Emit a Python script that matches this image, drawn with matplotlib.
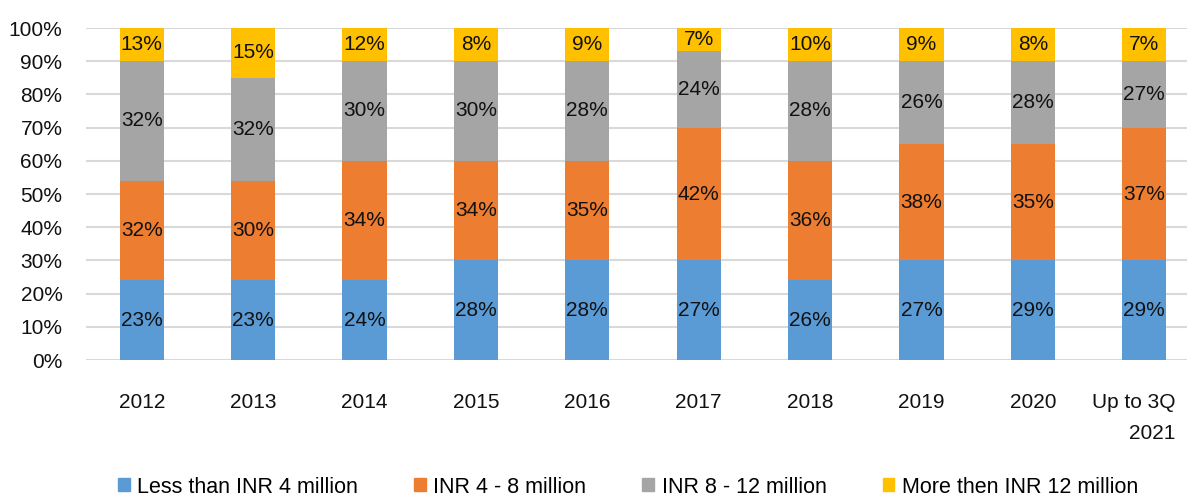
import numpy as np
import matplotlib.pyplot as plt
from matplotlib.transforms import ScaledTranslation

plt.rcParams['font.family'] = ['Liberation Sans', 'DejaVu Sans']

years = ['2012', '2013', '2014', '2015', '2016', '2017', '2018', '2019', '2020', 'Up to 3Q\n2021']
series = ['Less than INR 4 million', 'INR 4 - 8 million', 'INR 8 - 12 million', 'More then INR 12 million']
colors = ['#5B9BD5', '#ED7D31', '#A5A5A5', '#FFC000']

# segment heights as drawn in the picture (%)
h_lt4 = [24, 24, 24, 30, 30, 30, 24, 30, 30, 30]
h_4_8 = [30, 30, 36, 30, 30, 40, 36, 35, 35, 40]
h_8_12 = [36, 31, 30, 30, 30, 23, 30, 25, 25, 20]
h_gt12 = [10, 15, 10, 10, 10, 7, 10, 10, 10, 10]

# data labels as printed (%)
l_lt4 = [23, 23, 24, 28, 28, 27, 26, 27, 29, 29]
l_4_8 = [32, 30, 34, 34, 35, 42, 36, 38, 35, 37]
l_8_12 = [32, 32, 30, 30, 28, 24, 28, 26, 28, 27]
l_gt12 = [13, 15, 12, 8, 9, 7, 10, 9, 8, 7]

heights = [h_lt4, h_4_8, h_8_12, h_gt12]
labels = [l_lt4, l_4_8, l_8_12, l_gt12]

W, H = 1187, 498
fig = plt.figure(figsize=(W / 100, H / 100), dpi=100)
ax = fig.add_axes([86 / W, 138 / H, (1200 - 86) / W, 332 / H])

x = np.arange(len(years))
bottom = np.zeros(len(years))
for vals, lbls, c in zip(heights, labels, colors):
    vals = np.array(vals, dtype=float)
    ax.bar(x, vals, 0.395, bottom=bottom, color=c, zorder=2)
    for xi, b, v, t in zip(x, bottom, vals, lbls):
        ax.text(xi, b + v / 2, f'{t}%', ha='center', va='center',
                fontsize=15, color='#111111', zorder=3)
    bottom += vals

ax.set_xlim(-0.5, len(years) - 0.5)
ax.set_ylim(0, 100)
ax.set_yticks(np.arange(0, 101, 10))
ax.set_yticklabels([f'{v}%' for v in range(0, 101, 10)])
ax.set_xticks(x)
ax.set_xticklabels(years, multialignment='right', linespacing=1.75)
ax.tick_params(axis='both', length=0, labelsize=15, colors='#111111')
ax.tick_params(axis='y', pad=17)
ax.tick_params(axis='x', pad=24)
ax.grid(axis='y', color='#D9D9D9', lw=1.5, zorder=0)
for s in ax.spines.values():
    s.set_visible(False)

# last label sits a little left of its bar in the original
last = ax.get_xticklabels()[-1]
last.set_transform(last.get_transform() + ScaledTranslation(-0.11, 0, fig.dpi_scale_trans))

handles = [plt.Rectangle((0, 0), 1, 1, color=c) for c in colors]
fig.legend(handles, series, loc='center', bbox_to_anchor=(628 / W, 1 - 487 / H),
           ncol=4, frameon=False, fontsize=15.5, handlelength=0.55, handleheight=0.55,
           handletextpad=0.35, columnspacing=2.6)

fig.savefig('out.png', dpi=100)
